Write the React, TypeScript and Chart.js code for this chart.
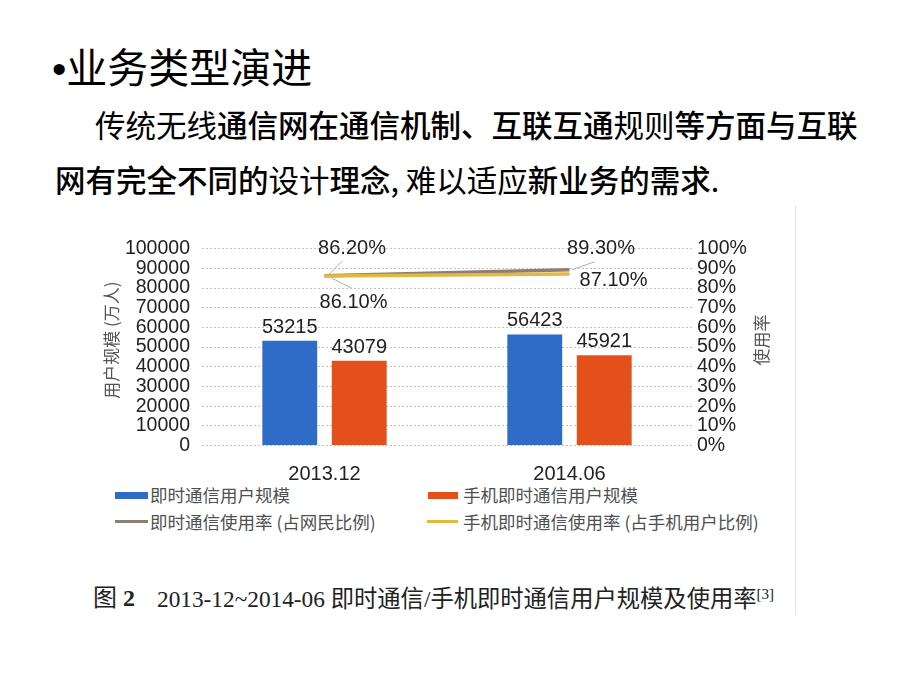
import React, { useEffect, useRef } from "react";
import { Chart, registerables } from "chart.js";

Chart.register(...registerables);

// ---- data ----
const categories = ["2013.12", "2014.06"];
const imUsers = [53215, 56423];
const mobileImUsers = [43079, 45921];
const imRate = [86.2, 89.3];
const mobileImRate = [86.1, 87.1];
const seriesNames = [
  "即时通信用户规模",
  "手机即时通信用户规模",
  "即时通信使用率 (占网民比例)",
  "手机即时通信使用率 (占手机用户比例)",
];
const leftAxisTitle = "用户规模 (万人)";
const rightAxisTitle = "使用率";
const leftAxisMax = 100000;
const leftAxisStep = 10000;
const rightAxisMax = 100;
const rightAxisStep = 10;

// ---- styles ----
const BLUE = "#2e6cc8";
const ORANGE = "#e4501c";
const GRAY = "#8a8078";
const YELLOW = "#e4b83c";
const TICK_FONT = '"Liberation Sans", Arial, sans-serif';
const CJK_FONT = '"Noto Sans CJK SC", "Noto Sans", sans-serif';

// label offsets (px) for line value labels: [dx, dy, leaderStart, leaderEnd]
const lineLabelStyle: Record<number, Array<{ dx: number; dy: number; l?: number[] }>> = {
  0: [
    { dx: 27.5, dy: -27, l: [5, -2, 18, -15] },
    { dx: 31.5, dy: -21, l: [2.5, 0, 25, -8] },
  ],
  1: [
    { dx: 29, dy: 26.5, l: [7, 2, 27, 12] },
    { dx: 44, dy: 6.6 },
  ],
};

const valueLabels = {
  id: "valueLabels",
  afterDatasetsDraw(chart: any) {
    const ctx = chart.ctx;
    ctx.save();
    ctx.font = `20px ${TICK_FONT}`;
    ctx.fillStyle = "#222";
    ctx.textAlign = "center";
    ctx.textBaseline = "middle";
    chart.data.datasets.forEach((ds: any, di: number) => {
      const meta = chart.getDatasetMeta(di);
      meta.data.forEach((el: any, i: number) => {
        const v = ds.data[i];
        if (ds.type === "bar") {
          ctx.fillText(String(v), el.x, el.y - 13.5);
        } else {
          const st = lineLabelStyle[di][i];
          if (st.l) {
            ctx.strokeStyle = "#b0b0b0";
            ctx.lineWidth = 1;
            ctx.beginPath();
            ctx.moveTo(el.x + st.l[0], el.y + st.l[1]);
            ctx.lineTo(el.x + st.l[2], el.y + st.l[3]);
            ctx.stroke();
          }
          ctx.fillStyle = "#222";
          ctx.fillText(v.toFixed(2) + "%", el.x + st.dx, el.y + st.dy);
        }
      });
    });
    ctx.restore();
  },
};

const axisTitles = {
  id: "axisTitles",
  afterDraw(chart: any) {
    const ctx = chart.ctx;
    const { top, bottom } = chart.chartArea;
    const cy = (top + bottom) / 2 - 7;
    ctx.save();
    ctx.fillStyle = "#555";
    ctx.textAlign = "center";
    ctx.textBaseline = "middle";
    ctx.font = `17px ${CJK_FONT}`;
    ctx.translate(17, cy);
    ctx.rotate(-Math.PI / 2);
    ctx.fillText(leftAxisTitle, 0, 0);
    ctx.restore();
    ctx.save();
    ctx.fillStyle = "#555";
    ctx.textAlign = "center";
    ctx.textBaseline = "middle";
    ctx.font = `17px ${CJK_FONT}`;
    ctx.translate(667, cy);
    ctx.rotate(-Math.PI / 2);
    ctx.fillText(rightAxisTitle, 0, 0);
    ctx.restore();
  },
};

function ChartCanvas() {
  const ref = useRef<HTMLCanvasElement>(null);
  useEffect(() => {
    if (!ref.current) return;
    const chart = new Chart(ref.current, {
      type: "bar",
      data: {
        labels: categories,
        datasets: [
          {
            type: "line",
            label: seriesNames[2],
            data: imRate,
            yAxisID: "y1",
            borderColor: GRAY,
            backgroundColor: GRAY,
            borderWidth: 3.5,
            pointRadius: 0,
            order: 1,
          } as any,
          {
            type: "line",
            label: seriesNames[3],
            data: mobileImRate,
            yAxisID: "y1",
            borderColor: YELLOW,
            backgroundColor: YELLOW,
            borderWidth: 3.5,
            pointRadius: 0,
            order: 0,
          } as any,
          {
            type: "bar",
            label: seriesNames[0],
            data: imUsers,
            yAxisID: "y",
            backgroundColor: BLUE,
            categoryPercentage: 0.567,
            barPercentage: 0.79,
            order: 2,
          } as any,
          {
            type: "bar",
            label: seriesNames[1],
            data: mobileImUsers,
            yAxisID: "y",
            backgroundColor: ORANGE,
            categoryPercentage: 0.567,
            barPercentage: 0.79,
            order: 3,
          } as any,
        ],
      },
      options: {
        animation: false,
        responsive: false,
        layout: { padding: { top: 20, left: 0, right: 0, bottom: 0 } },
        plugins: { legend: { display: false }, tooltip: { enabled: false } },
        scales: {
          x: {
            grid: { display: false },
            border: { display: false },
            ticks: { font: { family: TICK_FONT, size: 20 }, color: "#222", padding: 9 },
            afterFit: (s: any) => {
              s.height = 34.5;
            },
          },
          y: {
            position: "left",
            min: 0,
            max: leftAxisMax,
            ticks: {
              stepSize: leftAxisStep,
              autoSkip: false,
              font: { family: TICK_FONT, size: 19.5 },
              color: "#222",
              padding: 12,
              callback: (v: any) => String(v),
            },
            grid: { color: "#c4c4c4", drawTicks: false, lineWidth: 1 },
            border: { display: false, dash: [2, 2] },
            afterFit: (s: any) => {
              s.width = 107;
            },
          },
          y1: {
            position: "right",
            min: 0,
            max: rightAxisMax,
            ticks: {
              stepSize: rightAxisStep,
              autoSkip: false,
              font: { family: TICK_FONT, size: 19.5 },
              color: "#222",
              padding: 5,
              callback: (v: any) => v + "%",
            },
            grid: { display: false, drawTicks: false },
            border: { display: false },
            afterFit: (s: any) => {
              s.width = 103;
            },
          },
        },
      } as any,
      plugins: [valueLabels, axisTitles],
    });
    return () => chart.destroy();
  }, []);
  return <canvas ref={ref} width={700} height={255} style={{ width: 700, height: 255, display: "block" }} />;
}

const abs = (left: number, top: number, extra: React.CSSProperties = {}): React.CSSProperties => ({
  position: "absolute",
  left,
  top,
  whiteSpace: "nowrap",
  ...extra,
});

const SERIF = '"Liberation Serif", "Noto Sans CJK SC", serif';

export default function App() {
  const legendText: React.CSSProperties = { fontSize: 17.5, lineHeight: "22px", color: "#505050", fontFamily: CJK_FONT };
  const semi: React.CSSProperties = { fontWeight: 500 };
  return (
    <div
      style={{
        position: "absolute",
        left: 0,
        top: 0,
        width: 920,
        height: 690,
        background: "#fff",
        overflow: "hidden",
        fontFamily: CJK_FONT,
        color: "#000",
      }}
    >
      <div style={abs(52, 40, { fontSize: 41, lineHeight: "50px" })}>
        <span style={{ fontFamily: TICK_FONT }}>•</span>业务类型演进
      </div>
      <div style={abs(95, 104, { fontSize: 30.5, lineHeight: "40px" })}>
        <span>传统无线</span>
        <span style={semi}>通信网在通信机制、互联互通</span>
        <span>规则</span>
        <span style={semi}>等方面与互联</span>
      </div>
      <div style={abs(55, 159, { fontSize: 30.5, lineHeight: "40px" })}>
        <span style={semi}>网有完全不同的</span>
        <span>设计</span>
        <span style={semi}>理念</span>
        <span>, 难以适应</span>
        <span style={semi}>新业务的需求</span>
        <span>.</span>
      </div>

      <div style={abs(95, 225)}>
        <ChartCanvas />
      </div>

      <div style={{ position: "absolute", left: 795, top: 205, width: 1, height: 410, background: "#e4e4e4" }} />

      {/* legend */}
      <div style={{ position: "absolute", left: 115, top: 492, width: 33, height: 7, background: BLUE }} />
      <div style={abs(150, 484, legendText)}>{seriesNames[0]}</div>
      <div style={{ position: "absolute", left: 428, top: 492, width: 30, height: 7, background: ORANGE }} />
      <div style={abs(463, 484, legendText)}>{seriesNames[1]}</div>
      <div style={{ position: "absolute", left: 115, top: 520, width: 33, height: 3, background: GRAY }} />
      <div style={abs(150, 511, legendText)}>{seriesNames[2]}</div>
      <div style={{ position: "absolute", left: 427, top: 520, width: 31, height: 3, background: YELLOW }} />
      <div style={abs(463, 511, legendText)}>{seriesNames[3]}</div>

      {/* caption */}
      <div style={abs(93, 583, { fontSize: 24, lineHeight: "30px", fontFamily: SERIF, color: "#222" })}>
        图 <b>2</b>
      </div>
      <div style={abs(157, 584, { fontSize: 23.3, lineHeight: "30px", fontFamily: SERIF, color: "#222" })}>
        2013-12~2014-06 即时通信/手机即时通信用户规模及使用率
        <sup style={{ fontSize: 15, verticalAlign: "8px", lineHeight: 0 }}>[3]</sup>
      </div>
    </div>
  );
}
